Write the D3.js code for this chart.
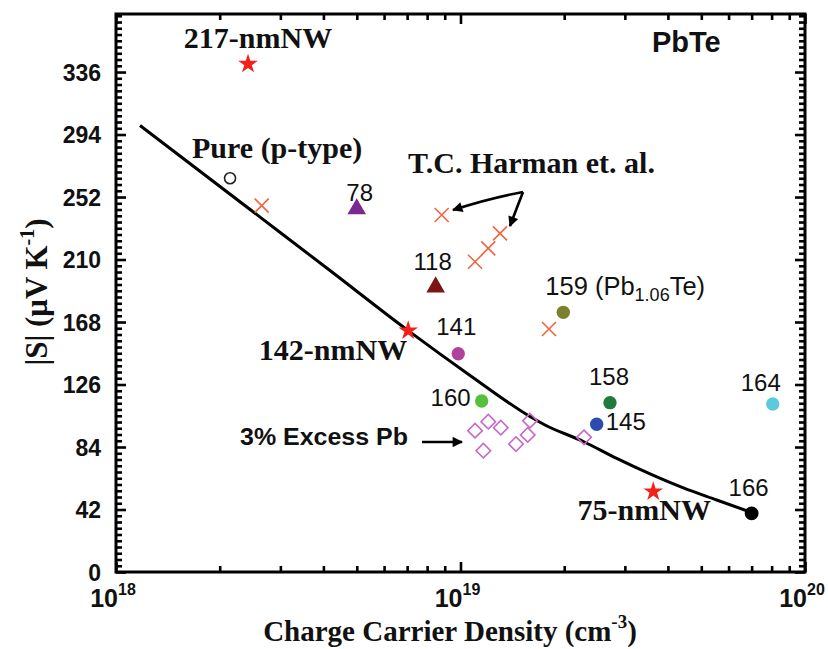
<!DOCTYPE html>
<html>
<head>
<meta charset="utf-8">
<script src="https://cdn.jsdelivr.net/npm/d3@7"></script>
<style>
  html, body { margin: 0; padding: 0; background: #fff; }
  svg { display: block; }
  .serif { font-family: "Liberation Serif", "Times New Roman", serif; font-weight: bold; }
  .sans { font-family: "Liberation Sans", Arial, sans-serif; }
</style>
</head>
<body>
<svg id="chart" width="828" height="649"></svg>
<script>
// ---- Seebeck coefficient |S| vs carrier density for PbTe ----

// Theoretical curve (Pisarenko-type relation)
const curveN = [1.174e18, 2.654e18, 4.18e18, 7.05e18, 1.066e19, 1.591e19, 1.759e19,
                2.273e19, 2.841e19, 3.549e19, 4.435e19, 5.541e19, 7.0e19];
const curveS = [300.1, 237.5, 202.6, 162.2, 132.1, 104.5, 98.8,
                87.7, 76.3, 65.9, 56.5, 48.4, 40.0];

// Nanowires (red stars)
const nwNames = ["217-nmNW", "142-nmNW", "75-nmNW"];
const nwN = [2.417e18, 7.05e18, 3.627e19];
const nwS = [341.4, 162.2, 54.0];

// T.C. Harman et al. (crosses)
const harmanN = [2.648e18, 8.82e18, 1.102e19, 1.204e19, 1.302e19, 1.807e19];
const harmanS = [246.2, 239.9, 208.5, 217.5, 227.6, 163.3];

// Pure (p-type) sample
const pureN = [2.143e18];
const pureS = [264.6];

// Numbered samples
const sampleIds = ["78", "118", "141", "159", "160", "158", "145", "164", "166"];
const sampleN = [4.997e18, 8.47e18, 9.85e18, 1.988e19, 1.152e19, 2.716e19, 2.485e19, 8.06e19, 7.0e19];
const sampleS = [244.0, 191.5, 146.7, 174.5, 114.9, 113.8, 99.3, 112.9, 39.4];

// 3% excess Pb samples (open diamonds)
const excessN = [1.102e19, 1.204e19, 1.309e19, 1.165e19, 1.449e19, 1.567e19, 1.591e19, 2.283e19];
const excessS = [95.0, 101.0, 97.0, 81.5, 86.0, 92.1, 101.7, 90.5];

// Axis ticks
const yTicks = [0, 42, 84, 126, 168, 210, 252, 294, 336];
const xTickExp = [18, 19, 20];

// ---- presentation ----
const sampleStyle = {
  "78":  { shape: "triangle", color: "#7a2a8c" },
  "118": { shape: "triangle", color: "#7b1712" },
  "141": { shape: "circle",   color: "#b2419c" },
  "159": { shape: "circle",   color: "#7c7f2c" },
  "160": { shape: "circle",   color: "#58bf3c" },
  "158": { shape: "circle",   color: "#1f7a3b" },
  "145": { shape: "circle",   color: "#2e4bae" },
  "164": { shape: "circle",   color: "#5ccadd" },
  "166": { shape: "circle",   color: "#000000" }
};
// label placement relative to each marker: [dx, dy, anchor]
const sampleLabelPos = {
  "78":  [3, -8, "middle"],
  "118": [-3, -17, "middle"],
  "141": [-2, -19, "middle"],
  "159": [-18, -17, "start"],
  "160": [-11, 5, "end"],
  "158": [-1, -18, "middle"],
  "145": [9, 6, "start"],
  "164": [-12, -13, "middle"],
  "166": [-3, -17, "middle"]
};
const nwLabelPos = {
  "217-nmNW": [10, -16, "middle"],
  "142-nmNW": [-1, 29, "end"],
  "75-nmNW":  [-9, 28, "middle"]
};

const M = { left: 116, right: 805, top: 14, bottom: 572 };

const svg = d3.select("#chart");
const x = d3.scaleLog().domain([1e18, 1e20]).range([M.left, M.right]);
const y = d3.scaleLinear().domain([0, 375]).range([M.bottom, M.top]);

// ---- axes (ticks point inward on all four sides) ----
const yMinor = d3.range(0, 90).filter(i => i % 10 !== 0).map(i => +(i * 4.2).toFixed(1)).filter(v => v <= 375);
const xMinor = [];
[1e18, 1e19].forEach(d => { for (let k = 2; k <= 9; k++) xMinor.push(k * d); });
const xMajor = xTickExp.map(e => Math.pow(10, e));

function styleAxis(g) {
  g.select(".domain").remove();
  g.selectAll(".tick line").attr("stroke", "#000").attr("stroke-width", 2.6);
}

svg.append("g").attr("transform", `translate(${M.left},0)`)
  .call(d3.axisLeft(y).tickValues(yTicks).tickSize(-10).tickPadding(15))
  .call(styleAxis)
  .call(g => g.selectAll("text").attr("class", "sans").style("font-weight", "bold")
    .attr("font-size", 23).attr("fill", "#111").attr("dy", "0.36em"));
svg.append("g").attr("transform", `translate(${M.left},0)`)
  .call(d3.axisLeft(y).tickValues(yMinor).tickSize(-6).tickFormat(""))
  .call(styleAxis);
svg.append("g").attr("transform", `translate(${M.right},0)`)
  .call(d3.axisRight(y).tickValues(yTicks).tickSize(-10).tickFormat(""))
  .call(styleAxis);
svg.append("g").attr("transform", `translate(${M.right},0)`)
  .call(d3.axisRight(y).tickValues(yMinor).tickSize(-6).tickFormat(""))
  .call(styleAxis);

svg.append("g").attr("transform", `translate(0,${M.bottom})`)
  .call(d3.axisBottom(x).tickValues(xMajor).tickSize(-10).tickFormat(""))
  .call(styleAxis);
svg.append("g").attr("transform", `translate(0,${M.bottom})`)
  .call(d3.axisBottom(x).tickValues(xMinor).tickSize(-6).tickFormat(""))
  .call(styleAxis);
svg.append("g").attr("transform", `translate(0,${M.top})`)
  .call(d3.axisTop(x).tickValues(xMajor).tickSize(-10).tickFormat(""))
  .call(styleAxis);
svg.append("g").attr("transform", `translate(0,${M.top})`)
  .call(d3.axisTop(x).tickValues(xMinor).tickSize(-6).tickFormat(""))
  .call(styleAxis);

// x tick labels as powers of ten
xTickExp.forEach(e => {
  const t = svg.append("text").attr("class", "sans").style("font-weight", "bold")
    .attr("x", x(Math.pow(10, e)) - 3).attr("y", 607).attr("text-anchor", "middle")
    .attr("font-size", 25).attr("fill", "#111");
  t.append("tspan").text("10");
  t.append("tspan").attr("dy", -12).attr("font-size", 16).text(e);
});

// frame
svg.append("rect")
  .attr("x", M.left).attr("y", M.top)
  .attr("width", M.right - M.left).attr("height", M.bottom - M.top)
  .attr("fill", "none").attr("stroke", "#000").attr("stroke-width", 3);

// axis titles
const xt = svg.append("text").attr("class", "serif")
  .attr("x", 450).attr("y", 641).attr("text-anchor", "middle")
  .attr("font-size", 29).attr("fill", "#111");
xt.append("tspan").text("Charge Carrier Density (cm");
xt.append("tspan").attr("dy", -13).attr("font-size", 19).text("-3");
xt.append("tspan").attr("dy", 13).text(")");

const yt = svg.append("text").attr("class", "serif")
  .attr("transform", "translate(47,292) rotate(-90)")
  .attr("text-anchor", "middle").attr("font-size", 31).attr("fill", "#111");
yt.append("tspan").text("|S| (\u03bcV K");
yt.append("tspan").attr("dy", -13).attr("font-size", 20).text("-1");
yt.append("tspan").attr("dy", 13).text(")");

// ---- theory curve ----
const curve = curveN.map((n, i) => [n, curveS[i]]);
svg.append("path")
  .datum(curve)
  .attr("fill", "none").attr("stroke", "#000").attr("stroke-width", 3)
  .attr("d", d3.line().x(d => x(d[0])).y(d => y(d[1])).curve(d3.curveMonotoneX));

// ---- markers ----
const star = d3.symbol().type(d3.symbolStar).size(120);
const tri = d3.symbol().type(d3.symbolTriangle).size(150);

// 3% excess Pb diamonds
const diamondPath = d3.symbol().type(d3.symbolSquare).size(105);
svg.append("g").selectAll("path")
  .data(excessN.map((n, i) => [n, excessS[i]]))
  .join("path")
  .attr("d", diamondPath)
  .attr("transform", d => `translate(${x(d[0])},${y(d[1])}) rotate(45)`)
  .attr("fill", "none").attr("stroke", "#c768c4").attr("stroke-width", 1.6);

// Harman crosses
const cr = 7;
svg.append("g").selectAll("path")
  .data(harmanN.map((n, i) => [n, harmanS[i]]))
  .join("path")
  .attr("d", d => {
    const px = x(d[0]), py = y(d[1]);
    return `M${px - cr},${py - cr}L${px + cr},${py + cr}M${px - cr},${py + cr}L${px + cr},${py - cr}`;
  })
  .attr("stroke", "#f2643f").attr("stroke-width", 1.6).attr("fill", "none");

// pure sample
svg.append("g").selectAll("circle")
  .data(pureN.map((n, i) => [n, pureS[i]]))
  .join("circle")
  .attr("cx", d => x(d[0])).attr("cy", d => y(d[1])).attr("r", 5.5)
  .attr("fill", "none").attr("stroke", "#222").attr("stroke-width", 1.6);

// numbered samples
const samples = sampleIds.map((id, i) => ({ id, n: sampleN[i], s: sampleS[i] }));
svg.append("g").selectAll("path")
  .data(samples)
  .join("path")
  .attr("d", d => sampleStyle[d.id].shape === "triangle"
    ? tri()
    : d3.symbol().type(d3.symbolCircle).size(d.id === "166" ? 150 : 140)())
  .attr("transform", d => `translate(${x(d.n)},${y(d.s)})`)
  .attr("fill", d => sampleStyle[d.id].color);

svg.append("g").selectAll("text")
  .data(samples)
  .join("text")
  .attr("class", "sans")
  .attr("x", d => x(d.n) + sampleLabelPos[d.id][0])
  .attr("y", d => y(d.s) + sampleLabelPos[d.id][1])
  .attr("text-anchor", d => sampleLabelPos[d.id][2])
  .attr("font-size", d => d.id === "159" ? 25.5 : 24).attr("fill", "#111")
  .each(function (d) {
    const t = d3.select(this);
    if (d.id === "159") {
      t.append("tspan").text("159 (Pb");
      t.append("tspan").attr("dy", 6).attr("font-size", 18).text("1.06");
      t.append("tspan").attr("dy", -6).text("Te)");
    } else {
      t.text(d.id);
    }
  });

// nanowire stars
const nws = nwNames.map((name, i) => ({ name, n: nwN[i], s: nwS[i] }));
svg.append("g").selectAll("path")
  .data(nws)
  .join("path")
  .attr("d", star)
  .attr("transform", d => `translate(${x(d.n)},${y(d.s)})`)
  .attr("fill", "#f2201b");
svg.append("g").selectAll("text")
  .data(nws)
  .join("text")
  .attr("class", "serif")
  .attr("x", d => x(d.n) + nwLabelPos[d.name][0])
  .attr("y", d => y(d.s) + nwLabelPos[d.name][1])
  .attr("text-anchor", d => nwLabelPos[d.name][2])
  .attr("font-size", 30).attr("fill", "#111")
  .text(d => d.name);

// ---- annotations ----
svg.append("text").attr("class", "serif")
  .attr("x", x(pureN[0]) - 38).attr("y", y(pureS[0]) - 20)
  .attr("font-size", 30).attr("fill", "#111").text("Pure (p-type)");

svg.append("text").attr("class", "serif")
  .attr("x", 408).attr("y", 173)
  .attr("font-size", 30).attr("fill", "#111").text("T.C. Harman et. al.");

svg.append("text").attr("class", "sans").style("font-weight", "bold")
  .attr("x", 652).attr("y", 52)
  .attr("font-size", 29).attr("fill", "#111").text("PbTe");

svg.append("text").attr("class", "sans").style("font-weight", "bold")
  .attr("x", 240).attr("y", 445)
  .attr("font-size", 23).attr("textLength", 168).attr("lengthAdjust", "spacingAndGlyphs")
  .attr("fill", "#111").text("3% Excess Pb");

// arrowheads
const defs = svg.append("defs");
defs.append("marker").attr("id", "ah")
  .attr("viewBox", "0 0 10 10").attr("refX", 9).attr("refY", 5)
  .attr("markerWidth", 5).attr("markerHeight", 4).attr("orient", "auto")
  .attr("markerUnits", "strokeWidth")
  .append("path").attr("d", "M0,0L10,5L0,10Z").attr("fill", "#000");

// arrow to the excess-Pb cluster
svg.append("line")
  .attr("x1", 422).attr("y1", 442).attr("x2", 462).attr("y2", 442)
  .attr("stroke", "#000").attr("stroke-width", 2.6).attr("marker-end", "url(#ah)");

// arrows to Harman crosses from a common vertex
const vx = 523, vy = 192;
svg.append("path")
  .attr("d", `M${vx},${vy} Q490,198 453,210`)
  .attr("fill", "none").attr("stroke", "#000").attr("stroke-width", 2.6).attr("marker-end", "url(#ah)");
svg.append("path")
  .attr("d", `M${vx},${vy} Q516,210 510,226`)
  .attr("fill", "none").attr("stroke", "#000").attr("stroke-width", 2.6).attr("marker-end", "url(#ah)");
</script>
</body>
</html>
